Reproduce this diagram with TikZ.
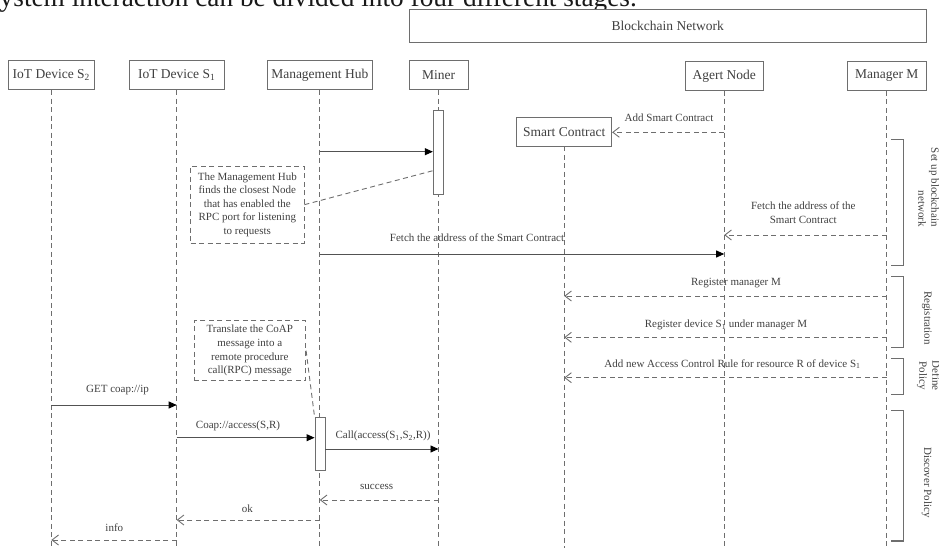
\documentclass[tikz,border=0pt]{standalone}
\usepackage{fontspec}
\setmainfont{Liberation Serif}
\usetikzlibrary{arrows.meta,calc}
\definecolor{lg}{HTML}{6E6E6E}
\definecolor{tg}{HTML}{404040}
\begin{document}
\begin{tikzpicture}[x=1pt,y=-1pt,
 hdr/.style={draw=lg,fill=white,line width=0.9pt,inner sep=0pt,text=tg,font=\fontsize{13.5}{16}\selectfont,minimum height=29pt},
 life/.style={draw=lg,line width=0.8pt,dash pattern=on 5pt off 3.5pt},
 actbar/.style={draw=lg,fill=white,line width=0.9pt,minimum width=10pt,inner sep=0pt},
 note/.style={draw=lg,line width=0.9pt,dash pattern=on 5pt off 3.5pt,text=tg,align=center,font=\fontsize{11}{13.6}\selectfont,inner sep=0pt},
 notelink/.style={draw=lg,line width=0.9pt,dash pattern=on 5pt off 3.5pt},
 msg/.style={draw=lg!75!black,line width=0.9pt,-{Triangle[length=8pt,width=7pt,color=black]}},
 rep/.style={draw=lg,line width=0.9pt,dash pattern=on 5pt off 3.5pt,-{Straight Barb[length=6.5pt,width=10pt]}},
 lbl/.style={text=tg,font=\fontsize{11}{13.6}\selectfont,inner sep=0pt,align=center},
 brk/.style={draw=lg,line width=1.1pt},
 blbl/.style={text=tg,font=\fontsize{11}{13}\selectfont,inner sep=0pt,rotate=-90},
]
\useasboundingbox (0,0) rectangle (939,548);
\clip (0,0) rectangle (939,548);

% cropped caption line at the very top
\node[anchor=base east,inner sep=0pt,font=\fontsize{27.3}{31}\selectfont,text=black!90] (cap) at (637,7) {System interaction can be divided into four different stages.};

% headers
\node[hdr,minimum width=516.7pt,minimum height=32.4pt] (bcn) at (667.7,25.8) {Blockchain Network};
\node[hdr,minimum width=86.7pt] (s2) at (51.3,75.3) {IoT Device S\textsubscript{2}};
\node[hdr,minimum width=94.7pt] (s1) at (176.7,75.3) {IoT Device S\textsubscript{1}};
\node[hdr,minimum width=105pt] (hub) at (319.8,75.3) {Management Hub};
\node[hdr,minimum width=59pt] (miner) at (438.5,75.3) {Miner};
\node[hdr,minimum width=78.3pt] (agent) at (724.2,76) {Agert Node};
\node[hdr,minimum width=78.7pt] (mgr) at (886.7,76) {Manager M};
\node[hdr,minimum width=95pt,minimum height=28.7pt] (sc) at (564.2,131.7) {Smart Contract};

% lifelines
\foreach \n in {s2,s1,hub,miner,agent,mgr,sc}
  \draw[life] (\n.south) -- (\n.south |- 0,548);

% activation bars
\node[actbar,minimum height=84.3pt] (minerbar) at (438.3,152.2) {};
\node[actbar,minimum height=52.7pt] (hubbar) at (320,443.7) {};

% notes
\node[note,minimum width=113.3pt,minimum height=77.3pt] (note1) at (247.3,204.7)
  {The Management Hub\\finds the closest Node\\that has enabled the\\RPC port for listening\\to requests};
\node[note,minimum width=111.7pt,minimum height=60pt] (note2) at (249.8,350.7)
  {Translate the CoAP\\message into a\\remote procedure\\call(RPC) message};
\draw[notelink] (note1.east) -- (minerbar.west |- 0,170.7);
\draw[notelink] (note2.east) -- (hubbar.north west);

% set up blockchain network
\draw[msg] (hub |- 0,151.7) -- (minerbar.west |- 0,151.7);
\draw[rep] (agent |- 0,132.3) -- (sc.east |- 0,132.3);
\node[lbl] (l1) at (669,117.3) {Add Smart Contract};
\draw[rep] (mgr |- 0,235) -- (agent |- 0,235);
\node[lbl] (l2) at (803.3,212.7) {Fetch the address of the\\Smart Contract};
\draw[msg] (hub |- 0,254) -- (agent |- 0,254);
\node[lbl] (l3) at (477,237.3) {Fetch the address of the Smart Contract};

% registration
\draw[rep] (mgr |- 0,296) -- (sc |- 0,296);
\node[lbl] (l4) at (736,282.7) {Register manager M};
\draw[rep] (mgr |- 0,337.3) -- (sc |- 0,337.3);
\node[lbl] (l5) at (726,325) {Register device S\textsubscript{1} under manager M};

% define policy
\draw[rep] (mgr |- 0,377.7) -- (sc |- 0,377.7);
\node[lbl] (l6) at (732.5,364.3) {Add new Access Control Rule for resource R of device S\textsubscript{1}};

% discover policy
\draw[msg] (s2 |- 0,405) -- (s1 |- 0,405);
\node[lbl] (l7) at (117.5,390) {GET coap://ip};
\draw[msg] (s1 |- 0,437.7) -- (hubbar.west |- 0,437.7);
\node[lbl] (l8) at (238,425.7) {Coap://access(S,R)};
\draw[msg] (hubbar.east |- 0,449) -- (miner |- 0,449);
\node[lbl] (l9) at (383,436) {Call(access(S\textsubscript{1},S\textsubscript{2},R))};
\draw[rep] (miner |- 0,500) -- (hub |- 0,500);
\node[lbl] (l10) at (376.7,486.7) {success};
\draw[rep] (hub |- 0,520) -- (s1 |- 0,520);
\node[lbl] (l11) at (247.3,508.3) {ok};
\draw[rep] (s1 |- 0,540) -- (s2 |- 0,540);
\node[lbl] (l12) at (114.3,527.3) {info};

% stage brackets
\draw[brk] (891,139.3) -- (903.3,139.3) -- (903.3,265.7) -- (891,265.7);
\draw[brk] (891,276.7) -- (903.3,276.7) -- (903.3,347.3) -- (891,347.3);
\draw[brk] (891,358.3) -- (903.3,358.3) -- (903.3,394.3) -- (891,394.3);
\draw[brk] (891,410.7) -- (903.3,410.7) -- (903.3,541) -- (891,541);
\node[blbl,align=right] (b1) at (928.5,187.4) {Set up blockchain\\network};
\node[blbl] (b2) at (926.7,318) {Registration};
\node[blbl,align=center] (b3) at (928.5,375.5) {Define\\Policy};
\node[blbl] (b4) at (926.7,482.5) {Discover Policy};
\end{tikzpicture}
\end{document}
